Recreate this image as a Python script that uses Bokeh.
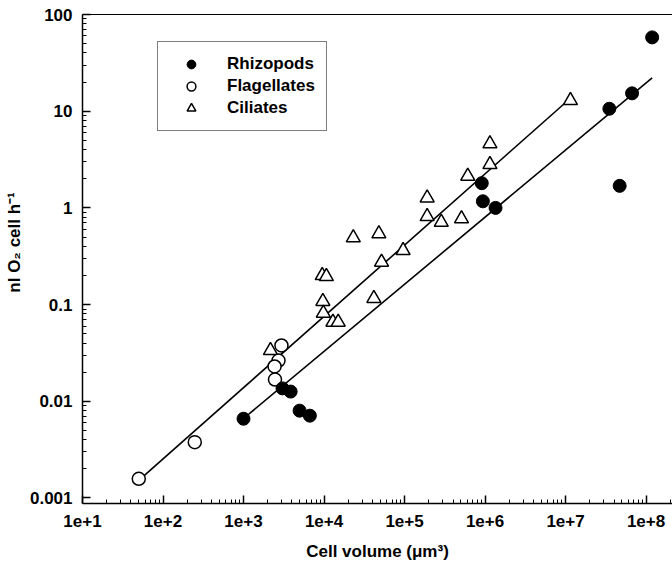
from bokeh.plotting import figure
from bokeh.models import (Range1d, FixedTicker, CustomJSTickFormatter, Legend,
                          LegendItem, LogAxis)
from bokeh.embed import file_html
from bokeh.resources import INLINE
import numpy as np

# Respiration rate per cell vs. cell volume for three protist groups
rhizo_vol = [1.0e3, 3.05e3, 3.85e3, 4.97e3, 6.67e3, 9.1e5, 9.4e5, 1.35e6,
             3.5e7, 6.7e7, 4.7e7, 1.19e8]
rhizo_o2 = [0.0066, 0.0136, 0.0126, 0.0080, 0.0071, 1.80, 1.17, 1.0,
            10.6, 15.3, 1.69, 58.0]

flag_vol = [50, 248, 2960, 2720, 2430, 2460]
flag_o2 = [0.00158, 0.00378, 0.0378, 0.0264, 0.0229, 0.0168]

cil_vol = [1.15e7, 1.15e6, 1.15e6, 6.1e5, 1.91e5, 1.91e5, 2.86e5, 5.1e5,
           2.31e4, 4.8e4, 9.6e4, 5.18e4, 9.5e3, 1.07e4, 9.67e3, 9.8e3,
           1.29e4, 1.5e4, 4.16e4, 2.16e3]
cil_o2 = [12.9, 4.6, 2.81, 2.13, 1.27, 0.815, 0.711, 0.771,
          0.491, 0.54, 0.362, 0.275, 0.2, 0.195, 0.108, 0.0815,
          0.0658, 0.0658, 0.116, 0.0335]

# log-log regression lines: log10(y) = intercept + slope * log10(x)
fit_upper = {"intercept": -4.07, "slope": 0.737, "x0": 50, "x1": 1.15e7}
fit_lower = {"intercept": -4.26, "slope": 0.694, "x0": 1.0e3, "x1": 1.19e8}

x_ticks = [1e1, 1e2, 1e3, 1e4, 1e5, 1e6, 1e7, 1e8]
y_ticks = [0.001, 0.01, 0.1, 1, 10, 100]

FONT = "Liberation Sans"
NBSP = "\u00a0"


def minor_ticks(majors):
    decades = list(majors) + [majors[-1] * 10]
    return [d * k for d in decades for k in range(2, 10)]


def fit_points(fit):
    xs = np.array([fit["x0"], fit["x1"]], dtype=float)
    ys = 10 ** (fit["intercept"] + fit["slope"] * np.log10(xs))
    return xs, ys


p = figure(width=672, height=570, x_axis_type="log", y_axis_type="log",
           x_range=Range1d(10, 2.13e8), y_range=Range1d(8.77e-4, 100),
           output_backend="svg", toolbar_location=None,
           min_border_left=82, min_border_right=0, min_border_top=14,
           min_border_bottom=67)
p.outline_line_color = None
p.xgrid.visible = False
p.ygrid.visible = False
p.background_fill_color = "white"

for ax in (p.xaxis[0], p.yaxis[0]):
    ax.axis_line_color = "black"
    ax.axis_line_width = 1.5
    ax.major_tick_in = 8
    ax.major_tick_out = 0
    ax.minor_tick_in = 4
    ax.minor_tick_out = 0
    ax.major_tick_line_width = 1.5
    ax.minor_tick_line_width = 1
    ax.major_label_text_font = FONT
    ax.major_label_text_font_style = "bold"
    ax.major_label_text_font_size = "17px"
    ax.major_label_text_color = "black"
    ax.axis_label_text_font = FONT
    ax.axis_label_text_font_style = "bold"
    ax.axis_label_text_font_size = "17px"
    ax.axis_label_text_color = "black"

p.xaxis.ticker = FixedTicker(ticks=x_ticks, minor_ticks=minor_ticks(x_ticks))
p.yaxis.ticker = FixedTicker(ticks=y_ticks, minor_ticks=minor_ticks(y_ticks))
p.xaxis.formatter = CustomJSTickFormatter(
    code="return '1e+' + Math.round(Math.log10(tick));")
p.yaxis.formatter = CustomJSTickFormatter(
    code="return tick >= 1 ? tick.toFixed(0) : tick.toPrecision(1);")
p.xaxis.major_label_standoff = 11
p.yaxis.major_label_standoff = 10
p.xaxis.axis_label = "Cell volume (μm³)"
# leading no-break spaces lift the rotated title a little above centre
p.yaxis.axis_label = NBSP * 7 + "nl O₂ cell h⁻¹"
p.xaxis.axis_label_standoff = 12
p.yaxis.axis_label_standoff = 3

# thin frame line along the top
top = LogAxis(ticker=FixedTicker(ticks=[]), major_label_text_font_size="0px",
              major_tick_in=0, major_tick_out=0, minor_tick_in=0,
              minor_tick_out=0, axis_line_width=1, axis_line_color="black",
              major_label_standoff=0)
p.add_layout(top, "above")

ux, uy = fit_points(fit_upper)
lx, ly = fit_points(fit_lower)
p.line(ux, uy, line_color="black", line_width=1.6)
p.line(lx, ly, line_color="black", line_width=1.6)

r_cil = p.scatter(cil_vol, cil_o2, marker="triangle", size=14,
                  fill_color="white", line_color="black", line_width=1.5)
r_flag = p.scatter(flag_vol, flag_o2, marker="circle", size=13,
                   fill_color="white", line_color="black", line_width=1.5)
r_rhizo = p.scatter(rhizo_vol, rhizo_o2, marker="circle", size=13,
                    fill_color="black", line_color="black", line_width=1)

legend = Legend(items=[LegendItem(label="Rhizopods", renderers=[r_rhizo]),
                       LegendItem(label="Flagellates", renderers=[r_flag]),
                       LegendItem(label="Ciliates", renderers=[r_cil])],
                location=(75, 372))
legend.border_line_color = "black"
legend.border_line_width = 1.5
legend.background_fill_color = "white"
legend.background_fill_alpha = 1
legend.glyph_width = 44
legend.glyph_height = 22
legend.spacing = 0
legend.padding = 11
legend.margin = 0
legend.label_standoff = 14
legend.label_text_font = FONT
legend.label_text_font_style = "bold"
legend.label_text_font_size = "17px"
legend.label_text_color = "black"
p.add_layout(legend, "center")

open("out.html", "w").write(file_html(p, INLINE))
